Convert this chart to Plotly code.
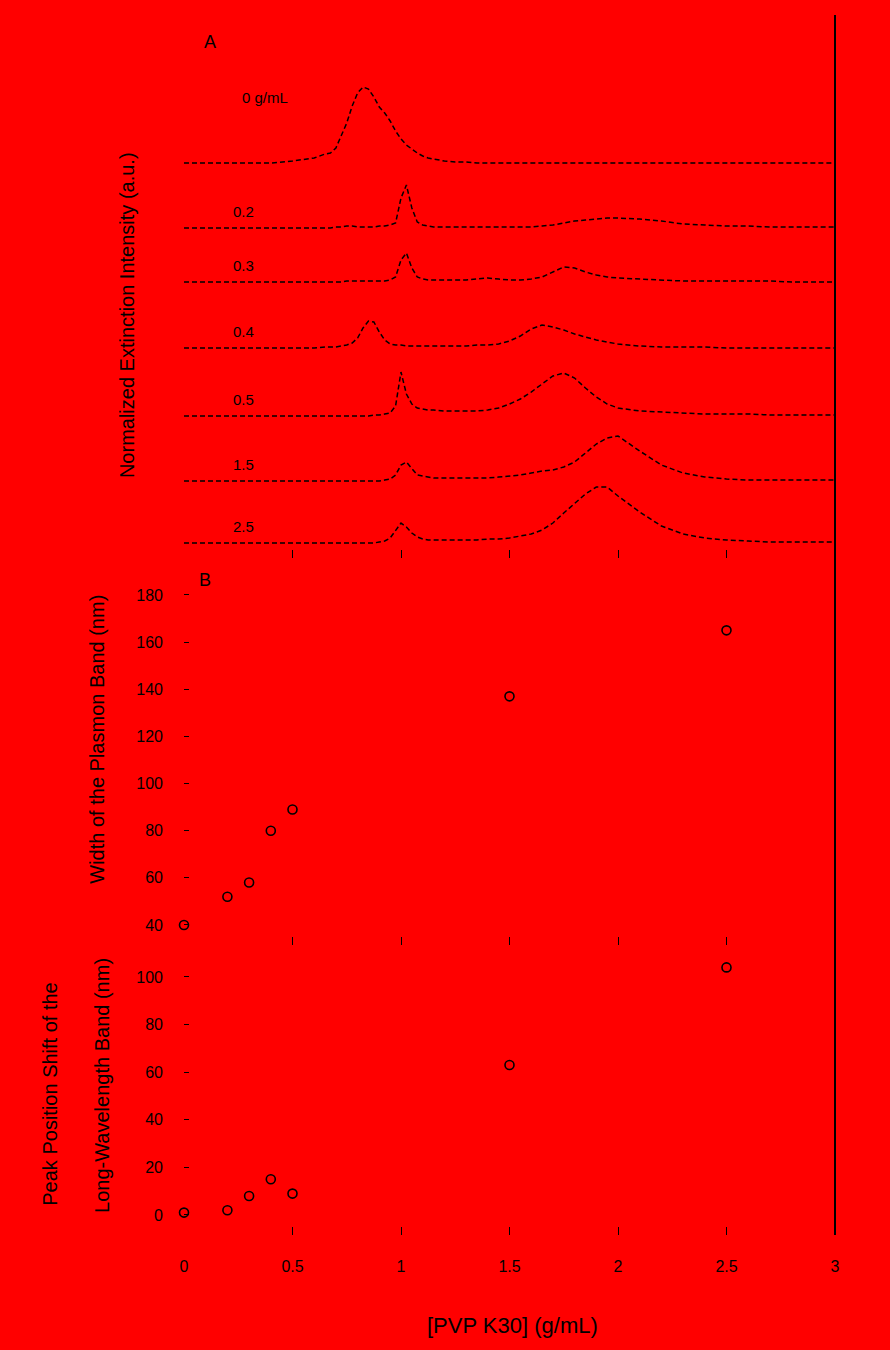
import plotly.graph_objects as go

# ---------------- data ----------------
wavelength = [300, 320, 340, 360, 380, 400, 420,
              430, 435, 440, 445, 450, 455, 460, 465, 470, 475, 480, 485, 490, 495, 500, 505, 510, 515, 520, 525, 530,
              540, 550, 560, 570, 580, 590, 600, 610, 620, 630, 640, 650, 660, 670, 680, 690, 700,
              720, 740, 760, 780, 800, 820, 840, 860, 880, 900]

spec_1 = [0, 0, 0, 0, 0, 2, 5,
          9, 10, 15, 27, 40, 57, 70, 76, 74, 66, 56, 50, 42, 32, 24, 18, 14, 10, 7, 5, 4,
          2, 1, 1, 0, 0, 0, 0, 0, 0, 0, 0, 0, 0, 0, 0, 0, 0,
          0, 0, 0, 0, 0, 0, 0, 0, 0, 0]
spec_2 = [0, 0, 0, 0, 0, 0, 0,
          0, 0, 1, 1, 2, 2, 1, 1, 1, 1, 2, 2, 3, 5, 30, 43, 20, 6, 3, 2, 1,
          1, 1, 1, 1, 1, 1, 1, 1, 1, 2, 3, 5, 7, 8, 9, 10, 10,
          9, 7, 4, 3, 2, 2, 1, 1, 1, 1]
spec_3 = [0, 0, 0, 0, 0, 0, 0,
          0, 0, 0, 0, 1, 1, 1, 1, 1, 1, 1, 1, 2, 5, 22, 29, 14, 5, 3, 2, 2,
          2, 2, 2, 3, 4, 3, 2, 2, 3, 5, 10, 15, 14, 10, 7, 5, 4,
          3, 2, 1, 1, 1, 1, 1, 0, 0, 0]
spec_4 = [0, 0, 0, 0, 0, 0, 0,
          1, 1, 1, 2, 3, 5, 10, 20, 27, 26, 16, 8, 4, 3, 3, 2, 2, 2, 2, 2, 2,
          2, 2, 2, 3, 3, 4, 7, 12, 19, 23, 21, 18, 14, 11, 8, 6, 4,
          2, 1, 1, 1, 0, 0, 0, 0, 0, 0]
spec_5 = [0, 0, 0, 0, 0, 0, 0,
          0, 0, 0, 0, 0, 0, 0, 0, 0, 1, 1, 2, 3, 10, 44, 22, 12, 8, 7, 6, 6,
          5, 5, 5, 5, 6, 8, 12, 17, 24, 32, 40, 43, 38, 28, 19, 12, 8,
          5, 4, 3, 2, 2, 2, 1, 1, 1, 1]
spec_6 = [0, 0, 0, 0, 0, 0, 0,
          0, 0, 0, 0, 0, 0, 0, 0, 0, 0, 0, 1, 2, 6, 16, 19, 12, 6, 5, 4, 3,
          3, 3, 3, 3, 3, 4, 5, 6, 8, 10, 11, 14, 19, 28, 37, 43, 45,
          30, 16, 8, 4, 2, 1, 1, 1, 1, 1]
spec_7 = [0, 0, 0, 0, 0, 0, 0,
          0, 0, 0, 0, 0, 0, 0, 0, 0, 0, 1, 2, 5, 12, 20, 16, 10, 6, 4, 3, 3,
          3, 3, 3, 3, 4, 4, 5, 7, 9, 13, 20, 30, 40, 49, 56, 56, 47,
          31, 17, 9, 5, 3, 2, 1, 1, 1, 1]
spectra = [spec_1, spec_2, spec_3, spec_4, spec_5, spec_6, spec_7]
spectrum_offsets = [385, 320, 266, 200, 132, 67, 5]
spectrum_labels = ["0 g/mL", "0.2", "0.3", "0.4", "0.5", "1.5", "2.5"]

concentration = [0, 0.2, 0.3, 0.4, 0.5, 1.5, 2.5]
band_width_nm = [40, 52, 58, 80, 89, 137, 165]
peak_shift_nm = [1, 2, 8, 15, 9, 63, 104]

x_ticks = [0, 0.5, 1, 1.5, 2, 2.5, 3]
x_tick_text = ["0", "0.5", "1", "1.5", "2", "2.5", "3"]
width_ticks = [40, 60, 80, 100, 120, 140, 160, 180]
shift_ticks = [0, 20, 40, 60, 80, 100]

# ---------------- figure ----------------
RED = "#ff0000"
FONT = "Liberation Sans, Arial, sans-serif"
fig = go.Figure()

for spec, off in zip(spectra, spectrum_offsets):
    fig.add_trace(go.Scatter(
        x=wavelength, y=[v + off for v in spec], mode="lines",
        line=dict(color="black", width=1.5, dash="5px,3px"),
        xaxis="x", yaxis="y", showlegend=False, hoverinfo="skip"))

marker_style = dict(symbol="circle-open", size=9, color="black", line=dict(width=1.6, color="black"))
fig.add_trace(go.Scatter(x=concentration, y=band_width_nm, mode="markers", marker=marker_style,
                         xaxis="x2", yaxis="y2", showlegend=False, cliponaxis=False))
fig.add_trace(go.Scatter(x=concentration, y=peak_shift_nm, mode="markers", marker=marker_style,
                         xaxis="x3", yaxis="y3", showlegend=False, cliponaxis=False))

# labels next to each spectrum
for i, (off, lab) in enumerate(zip(spectrum_offsets, spectrum_labels)):
    if i == 0:
        fig.add_annotation(x=375, y=off + 66, xref="x", yref="y", text=lab, showarrow=False,
                           font=dict(size=15, color="black", family=FONT))
    else:
        fig.add_annotation(x=355, y=off + 17, xref="x", yref="y", text=lab, showarrow=False,
                           font=dict(size=15, color="black", family=FONT))

tickfont = dict(size=16, color="black", family=FONT)
common = dict(showgrid=False, zeroline=False, showline=False, color="black")

fig.update_layout(
    width=890, height=1350,
    paper_bgcolor=RED, plot_bgcolor=RED,
    margin=dict(l=184, r=55, t=15, b=115),
    font=dict(family=FONT, color="black"),
    xaxis=dict(domain=[0, 1], range=[300, 900], anchor="y", showticklabels=False,
               ticks="", **common),
    yaxis=dict(domain=[0.5631, 1], range=[0, 533], anchor="x", showticklabels=False,
               ticks="", **common),
    xaxis2=dict(domain=[0, 1], range=[0, 3], anchor="y2", matches="x3", tickvals=x_ticks,
                showticklabels=False, ticks="inside", ticklen=8, tickcolor="black",
                mirror="ticks", **common),
    yaxis2=dict(domain=[0.2377, 0.5615], range=[31.5, 199.1], anchor="x2", tickvals=width_ticks,
                ticks="inside", ticklen=5, tickcolor="black", tickfont=tickfont,
                ticklabelstandoff=20, **common),
    xaxis3=dict(domain=[0, 1], range=[0, 3], anchor="y3", tickvals=x_ticks, ticktext=x_tick_text,
                ticks="inside", ticklen=8, tickcolor="black", tickfont=tickfont,
                ticklabelstandoff=20, **common),
    yaxis3=dict(domain=[0, 0.2377], range=[-8.4, 113.4], anchor="x3", tickvals=shift_ticks,
                ticks="inside", ticklen=5, tickcolor="black", tickfont=tickfont,
                ticklabelstandoff=20, **common),
)

# right frame line
fig.add_shape(type="line", xref="paper", yref="paper", x0=1, x1=1, y0=0, y1=1,
              line=dict(color="black", width=2))

title_font = dict(size=20, color="black", family=FONT)


def note(x, y, text, font, angle=0):
    fig.add_annotation(xref="paper", yref="paper", x=x, y=y, text=text, showarrow=False,
                       textangle=angle, xanchor="center", yanchor="middle", font=font)


note(-0.0876, 0.754, "Normalized Extinction Intensity (a.u.)", title_font, -90)
note(-0.1336, 0.406, "Width of the Plasmon Band (nm)", title_font, -90)
note(-0.2058, 0.115, "Peak Position Shift of the", title_font, -90)
note(-0.126, 0.123, "Long-Wavelength Band (nm)", title_font, -90)
note(0.504, -0.0738, "[PVP K30] (g/mL)", dict(size=22, color="black", family=FONT))
note(0.040, 0.978, "A", dict(size=18, color="black", family=FONT))
note(0.032, 0.537, "B", dict(size=18, color="black", family=FONT))

fig.write_html("out.html")
